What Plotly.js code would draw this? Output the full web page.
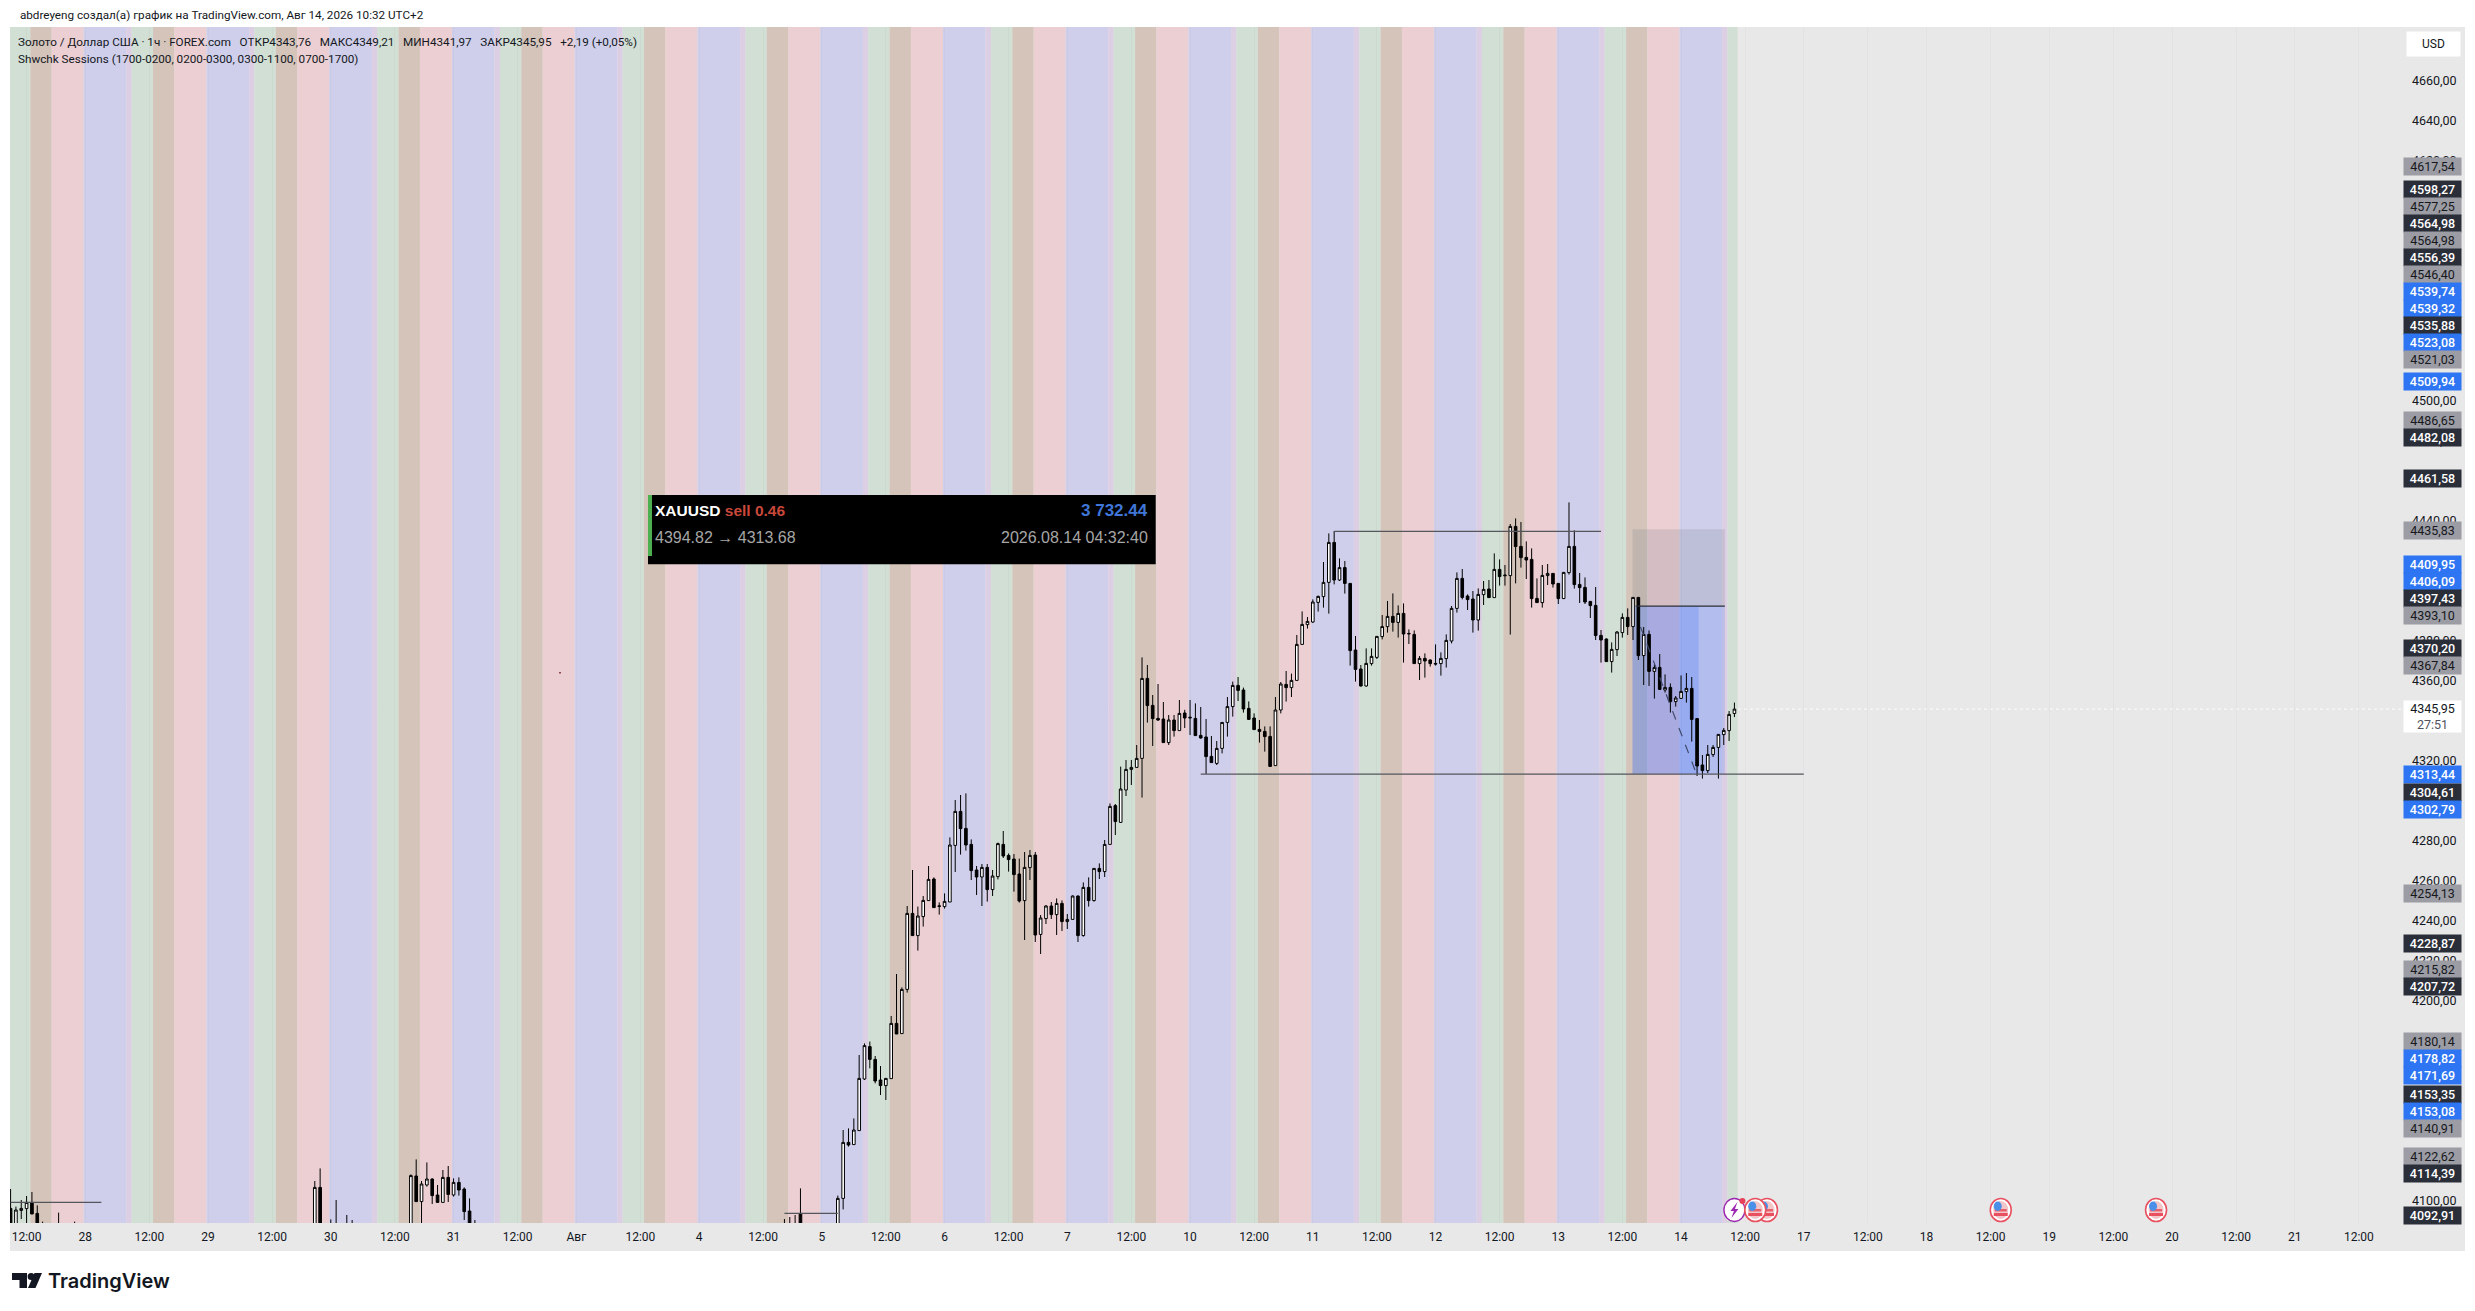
<!DOCTYPE html>
<html>
<head>
<meta charset="utf-8">
<title>XAUUSD</title>
<script src="https://cdn.plot.ly/plotly-3.0.1.min.js"></script>
<style>html,body{margin:0;padding:0;background:#fff}#chart{width:2475px;height:1311px}</style>
</head>
<body>
<div id="chart"></div>
<script>
// ---- candle data (hour bars on a trading-time axis; bar 0 = session of Jul 28) ----
const barsLeft = [-14,-13,-12,-11,-10,-9,-8,-5,-2,43,44,46,47,49,50,61,62,63,64,65,66,67,68,69,70,71,72,73,131,132,133,134,141];
const opensLeft = [4096.3,4085,4095.3,4096.2,4099.3,4093.8,4085,4085,4085,4080,4106.8,4085,4085,4085,4085,4080,4112.5,4099.7,4108,4111,4103,4099.3,4111.8,4103,4109.3,4106,4095,4085,4085,4085,4085,4093.8,4085];
const highsLeft = [4106,4097.2,4100.5,4102.5,4104.5,4097.8,4089.7,4094.2,4089.7,4110,4116.3,4090.8,4100.5,4093,4090.5,4113.3,4120.8,4110,4119.3,4111.3,4108,4115.5,4117.5,4111.3,4111.8,4106.8,4101.3,4090.5,4091,4092,4093,4106.3,4102.7];
const lowsLeft = [4080,4080,4091,4085,4093.5,4080,4080,4080,4080,4078,4075,4080,4080,4080,4080,4078,4099.5,4085,4107.2,4098.5,4099.3,4099.3,4099.5,4102.2,4102.7,4090.5,4080,4080,4080,4080,4080,4085,4083];
const closesLeft = [4085,4095.5,4096.3,4099.3,4093.5,4085,4083,4083,4083,4106.8,4075,4083,4083,4083,4083,4112.7,4099.7,4108.5,4111,4102.7,4099.3,4111.8,4103.3,4109.3,4105.5,4094.7,4085,4083,4083,4083,4083,4087,4101.3];

// bars 142 .. 309, consecutive
const firstMainBar = 142;
const opensMain = [
4101.3,4129.3,4128.2,4135.2,4161,4177.2,4170.8,4160.5,4157.7,4161.2,
4188.8,4183.7,4205.8,4243.8,4232.7,4242.2,4250.2,4261,4247.6,4247.2,
4249.5,4277.8,4294.8,4286.3,4278.3,4265.5,4262,4266.8,4255.7,4262.2,
4278.3,4272.8,4271,4263.5,4250.2,4266.7,4273,4233.3,4241.2,4247.5,
4243.2,4248.8,4239.7,4240.8,4252.5,4232.7,4256.8,4250.2,4266.3,4264.7,
4278.3,4297.7,4289.3,4305.5,4315.8,4316.8,4321.3,4361.3,4347.8,4341.3,
4341,4329.2,4340.5,4335.2,4344,4341.9,4341.3,4332.8,4332,4322.3,
4318.8,4326.3,4339.3,4347.2,4357.8,4355.5,4346.3,4341.5,4335.8,4334.8,
4332.3,4317.7,4345.5,4358.3,4356.7,4360.3,4378.3,4388.2,4389.5,4399.3,
4402.2,4409.3,4429.3,4410.5,4416.7,4408.8,4375.5,4366,4357.5,4368.7,
4371.8,4382.2,4387.2,4392.3,4389.3,4393.8,4383.8,4383.3,4368.7,4371.3,
4370.5,4368.8,4368.7,4371.2,4380,4396.3,4411.3,4402.5,4401,4390.5,
4403.2,4406,4401.7,4415.8,4412.6,4412.7,4437.3,4427.3,4421.8,4420.8,
4401.3,4399.2,4412.7,4413.8,4408.8,4401.2,4414.2,4427.3,4408.3,4406.8,
4399.8,4397.8,4382.8,4381,4369.7,4375.7,4384.2,4391.8,4387.2,4401.8,
4372.7,4383.3,4364.8,4366.8,4355.5,4356.8,4349.7,4351.3,4354.7,4356.3,
4341.2,4318,4315.2,4323.2,4326.8,4333.2,4335.2,4343.76];
const highsMain = [
4135.5,4136.3,4141.3,4173,4178.8,4179.7,4172.5,4167.5,4161.3,4192.5,
4213.5,4206.8,4247.5,4265.5,4247.2,4252.5,4267.5,4261.8,4249.3,4253.8,
4281.8,4300.5,4303,4303.8,4280.8,4267.5,4268.5,4268.5,4265.5,4279.2,
4285,4273.8,4273.5,4271.2,4274.5,4275.5,4274.5,4243,4248,4249.5,
4251.3,4250.3,4243.5,4252.8,4252.8,4259.3,4261.8,4266.3,4268.8,4280.5,
4298.8,4298.5,4317.2,4320.5,4320.5,4328,4371.8,4368,4353,4358.5,
4349.5,4343,4343,4350.5,4345.6,4350.5,4348.8,4347,4341,4332.5,
4330,4339.3,4352,4359.7,4362,4356.7,4349.8,4343.8,4340.5,4337.3,
4337.3,4352,4359.5,4365,4363.7,4383,4394.8,4392,4400.8,4402.7,
4419.5,4433.8,4435,4421.3,4420,4408.8,4382.5,4368,4376.3,4376.3,
4382.3,4393,4400,4403.8,4397.8,4398.8,4385.8,4385.3,4372.5,4373.8,
4370.8,4378.3,4374.3,4383.3,4397.5,4414.3,4416,4403.3,4405,4406.3,
4410,4410.5,4423.8,4420.8,4418,4438.5,4441.3,4439.5,4429.8,4426.3,
4411.3,4418,4418.5,4413.8,4408.8,4414.5,4449.3,4435.3,4414,4411.8,
4399.8,4407,4385.5,4381.3,4379.3,4385,4393.8,4396.3,4401.8,4401.8,
4387,4385.3,4368.3,4373.5,4363.3,4358.8,4352.5,4362.8,4364,4362,
4341.2,4323,4328,4328,4333.5,4336.5,4345,4349.21];
const lowsMain = [
4095.8,4127.2,4128.2,4135.2,4160.5,4166.3,4158.8,4153,4150.5,4161.2,
4183.5,4183.7,4204.2,4232.7,4225.2,4237.2,4250.2,4246.7,4243.2,4246.2,
4249.5,4264.5,4273.2,4275.2,4260.5,4253,4247.5,4249.7,4252.5,4260.8,
4271.5,4264.7,4254.7,4249.2,4230.5,4260.5,4229.5,4223.5,4238.5,4241,
4233,4235,4236,4240.8,4229.5,4232.2,4247.2,4249.7,4261,4262,
4278.3,4283,4289,4302.5,4308,4316.8,4301.7,4339.2,4327.5,4340,
4329.2,4328,4332.2,4335.2,4336.5,4333,4332.7,4331.2,4313.5,4319.2,
4318,4323.8,4332.2,4342.2,4350,4344.2,4340.5,4335.7,4329.2,4324.7,
4317,4317.7,4343.8,4349.7,4352,4360.3,4378.3,4386.2,4389,4394.7,
4396.7,4393.7,4408.3,4410,4403.7,4367.7,4359.7,4357.2,4357.2,4367.7,
4371,4380.8,4384.2,4384.7,4381.7,4369.2,4378.5,4368.7,4360.5,4361.7,
4367.2,4367.7,4362.7,4366.7,4378.8,4394.2,4400.8,4395.5,4384.2,4385.2,
4398,4401.7,4401.7,4407.7,4407.7,4383.2,4408.8,4416.7,4411,4396.7,
4399.2,4396.7,4408,4406.7,4398.5,4401,4413.2,4406.2,4399,4398.5,
4391.5,4380.5,4369.2,4369.7,4364.2,4372.5,4381.7,4383,4380.5,4370.5,
4358,4357.5,4351.2,4355.8,4354.2,4344.2,4347.2,4351,4349.2,4329.7,
4312.5,4311.2,4314,4322,4311.2,4328,4330,4341.97];
const closesMain = [
4129.3,4128,4135.5,4161.3,4177.7,4170.8,4160,4157.7,4161.3,4188.8,
4183.5,4205.8,4243.8,4232.7,4242.5,4250.3,4260.8,4246.7,4247.3,4249.8,
4278,4294.8,4286.2,4278,4265.2,4262,4266.8,4255.7,4262.5,4278.7,
4272.5,4270.7,4263.2,4250,4266.8,4272.8,4233,4241.5,4247.5,4243.2,
4248.8,4239.7,4240.8,4252.5,4232.7,4256.8,4250.2,4266.3,4264.7,4278.3,
4297.3,4289.7,4306,4315.8,4316.8,4321.3,4361.3,4347.7,4341.2,4340.5,
4329.2,4340.5,4335.2,4343.8,4341.5,4341.6,4332.7,4331.5,4322.2,4319.2,
4326.3,4339.3,4347.2,4357.8,4355.3,4346,4340.8,4335.7,4334.8,4332.2,
4317.3,4345.5,4358.5,4356.7,4360.3,4378.3,4388.3,4389.8,4399.5,4402.3,
4409.3,4429.3,4410.5,4416.7,4408.8,4375.2,4365.8,4357.5,4368.8,4372.3,
4382.3,4387.2,4392.3,4389.3,4393.8,4383.5,4383.6,4368.7,4371.3,4370,
4368.7,4368.5,4371.3,4380.3,4396.3,4411.3,4401.8,4400.7,4390.5,4403.3,
4405.8,4401.7,4415.8,4412.2,4412.9,4437.3,4427.2,4421.7,4420.5,4401.2,
4399.2,4412.8,4413.8,4408.5,4401.2,4414.3,4427.3,4408.2,4406.7,4399.5,
4397.7,4382.7,4380.5,4369.7,4375.8,4384.5,4391.8,4387.2,4401.8,4372.7,
4383.3,4364.8,4366.7,4355.8,4356.8,4349.7,4351.5,4354.8,4356.3,4340.8,
4317.5,4315.2,4323.3,4326.8,4333.3,4335.3,4343.3,4345.95];

// ---- time axis ----
const dayLabels = ['28','29','30','31','Авг','4','5','6','7','10','11','12','13','14','17','18','19','20','21'];
const barsPerDay = 23;
const noonOffset = 12;
const lastBar = 309;

// ---- sessions: [bars from day start, length in bars, colour] ----
const sessionNames = ['0300-1100','overlap','1700-0200','0200-0300','0700-1700'];
const sessionStarts = [0,8,9,13,17];
const sessionEnds = [8,9,13,17,23];
const sessionColors = ['#cfcfeb','#dccfe4','#d1dfd4','#d4c4ba','#ebcfd2'];

// ---- price axis ----
const priceTicks = [4660,4640,4620,4500,4480,4440,4380,4360,4320,4280,4260,4240,4220,4200,4100];
const tagTexts = ['4617,54','4598,27','4577,25','4564,98','4564,98','4556,39','4546,40','4539,74','4539,32','4535,88','4523,08','4521,03','4509,94','4486,65','4482,08','4461,58','4435,83','4409,95','4406,09','4397,43','4393,10','4370,20','4367,84','4313,44','4304,61','4302,79','4254,13','4228,87','4215,82','4207,72','4180,14','4178,82','4171,69','4153,35','4153,08','4140,91','4122,62','4114,39','4092,91'];
const tagKinds = ['g','d','g','d','g','d','g','b','b','d','b','g','b','g','d','d','g','b','b','d','g','d','g','b','d','b','g','d','g','d','g','b','b','d','b','g','g','d','d'];
const tagRows = [166.7,189.7,206.7,223.3,240.3,257.3,274.3,291.3,308.3,325.3,342.3,359.3,381.5,420.3,437.3,478.3,530.3,564.3,581.3,598.3,615.3,648.3,665.3,774.3,792.3,809.3,893.3,943.3,969.3,986.3,1041.3,1058.3,1075.3,1094.3,1111.3,1128.3,1156.3,1173.3,1215];
const lastPrice = 4345.95;
const lastPriceText = '4345,95<br><span style="color:#50535e">27:51</span>';

// ---- drawings ----
const targetLevel = 4435.83, entryLevel = 4397.43, stopLevel = 4313.44;
const highLine = [234, 284, 4434.8];
const lowLine = [209, 322, stopLevel];
const leftLine = [-14, 3, 4099.3];
const bottomLine = [131, 141, 4093.8];
const positionBars = [289.9, 307.2, 302.3];
const tradePath = [291.4, 4387, 301.9, stopLevel];
const flagEventBars = [315.1, 312.9, 358.9, 388];
const boltEventBar = 309;
const eventPrice = 4095.5;

// ---- text ----
const gap = '\u00a0\u00a0\u00a0';
const titleText = 'abdreyeng создал(а) график на TradingView.com, Авг 14, 2026 10:32 UTC+2';
const legendLine1 = 'Золото / Доллар США · 1ч · FOREX.com' + gap + 'ОТКР4343,76' + gap + 'МАКС4349,21' + gap + 'МИН4341,97' + gap + 'ЗАКР4345,95' + gap + '+2,19 (+0,05%)';
const legendLine2 = 'Shwchk Sessions (1700-0200, 0200-0300, 0300-1100, 0700-1700)';

// ---- frame in page pixels ----
const W = 2475, H = 1311, L = 10, R = 2465, T = 27, B = 1223, AXB = 1251;
const fx = p => (p - L) / (R - L);
const fy = p => (B - p) / (B - T);
const FONT = 'Roboto, "Liberation Sans", sans-serif';
const INK = '#131722';

const bars = barsLeft.concat(opensMain.map((_, i) => firstMainBar + i));
const opens = opensLeft.concat(opensMain);
const highs = highsLeft.concat(highsMain);
const lows = lowsLeft.concat(lowsMain);
const closes = closesLeft.concat(closesMain);

const tickvals = [noonOffset - barsPerDay], ticktext = ['12:00'];
dayLabels.forEach((lab, d) => {
  tickvals.push(d * barsPerDay, d * barsPerDay + noonOffset);
  ticktext.push(lab, '12:00');
});

const shapes = [];
const paperRect = (x0, y0, x1, y1, fill, layer) => ({type:'rect', xref:'paper', yref:'paper', x0:fx(x0), x1:fx(x1), y0:fy(y0), y1:fy(y1), fillcolor:fill, line:{width:0}, layer:layer||'above'});
const dataRect = (x0, x1, y0, y1, fill, layer) => ({type:'rect', xref:'x', yref:'y', x0, x1, y0, y1, fillcolor:fill, line:{width:0}, layer:layer||'below'});
const dataLine = (x0, x1, y, color, width) => ({type:'line', xref:'x', yref:'y', x0, x1, y0:y, y1:y, line:{color, width}, layer:'above'});

// time-axis strip
shapes.push(paperRect(L, B, R, AXB, '#e8e8e9', 'below'));

// session bands
const bandShift = -0.3, bandLimit = lastBar + 0.6;
for (let d = -1; d * barsPerDay <= lastBar; d++) {
  sessionStarts.forEach((s, k) => {
    const a = d * barsPerDay + s + bandShift;
    const b = Math.min(d * barsPerDay + sessionEnds[k] + bandShift, bandLimit);
    if (a < bandLimit) shapes.push(dataRect(a, b, 4000, 4800, sessionColors[k]));
  });
}

// last price dotted line
shapes.push({type:'line', xref:'paper', yref:'y', x0:0, x1:fx(2404), y0:lastPrice, y1:lastPrice, line:{color:'rgba(255,255,255,0.85)', width:1, dash:'dot'}, layer:'below'});

// small stray mark on the chart
shapes.push(paperRect(559, 672, 561, 673.5, '#8a4a4a'));

// position tool
shapes.push(dataRect(positionBars[0], positionBars[1], entryLevel, targetLevel, 'rgba(120,123,134,0.2)'));
shapes.push(dataRect(positionBars[0], positionBars[1], stopLevel, entryLevel, 'rgba(41,98,255,0.17)'));
shapes.push(dataRect(positionBars[0], positionBars[2], stopLevel, entryLevel, 'rgba(41,98,255,0.2)'));

// level lines
shapes.push(dataLine(highLine[0], highLine[1], highLine[2], '#55565c', 1.2));
shapes.push(dataLine(lowLine[0], lowLine[1], lowLine[2], '#55565c', 1.2));
shapes.push(dataLine(leftLine[0], leftLine[1], leftLine[2], '#55565c', 1.2));
shapes.push(dataLine(bottomLine[0], bottomLine[1], bottomLine[2], '#55565c', 1.2));
shapes.push(dataLine(positionBars[0] + 0.6, positionBars[1], entryLevel, '#2a2e39', 1.4));
shapes.push({type:'line', xref:'x', yref:'y', x0:tradePath[0], y0:tradePath[1], x1:tradePath[2], y1:tradePath[3], line:{color:'#3f4a6b', width:1.2, dash:'dash'}, layer:'above'});

// event icons
const pxShape = (type, bar, x0, x1, y0, y1, fill, line) => ({type, xref:'x', yref:'y', xsizemode:'pixel', ysizemode:'pixel', xanchor:bar, yanchor:eventPrice, x0, x1, y0, y1, fillcolor:fill, line:line||{width:0}, layer:'above'});
shapes.push(pxShape('circle', boltEventBar, -10.5, 10.5, -11.5, 11.5, '#ffffff', {color:'#9c27b0', width:1.4}));
shapes.push({type:'path', xref:'x', yref:'y', xsizemode:'pixel', ysizemode:'pixel', xanchor:boltEventBar, yanchor:eventPrice, path:'M 3,8 L -4,-1 L -0.5,-1 L -3,-8 L 4,1 L 0.5,1 Z', fillcolor:'#9c27b0', line:{width:0}, layer:'above'});
shapes.push(pxShape('circle', boltEventBar, 5, 11, 6, 12, '#e8405a'));
flagEventBars.forEach(b => {
  shapes.push(pxShape('circle', b, -10.5, 10.5, -11.5, 11.5, '#ffffff', {color:'#e8505f', width:1.6}));
  shapes.push(pxShape('circle', b, -7.5, 7.5, -9, 9, '#f2c6c9'));
  shapes.push(pxShape('rect', b, -7, 7, -6, -3, '#e8505f'));
  shapes.push(pxShape('rect', b, -6, 6, -1.5, 1, '#e8606c'));
  shapes.push(pxShape('circle', b, -7, 1, -1, 8.5, '#4a90e8'));
});

// info card
shapes.push(paperRect(648, 495, 1155.7, 564.3, '#000000'));
shapes.push(paperRect(648, 495, 652, 556, '#4caf50'));

// logo
const pathOf = pts => 'M ' + pts.map(q => fx(q[0]) + ',' + fy(q[1])).join(' L ') + ' Z';
shapes.push({type:'path', xref:'paper', yref:'paper', path:pathOf([[12,1273],[27,1273],[27,1288],[19.5,1288],[19.5,1280],[12,1280]]), fillcolor:'#131722', line:{width:0}});
shapes.push({type:'circle', xref:'paper', yref:'paper', x0:fx(27.6), x1:fx(34.6), y0:fy(1280), y1:fy(1273), fillcolor:'#131722', line:{width:0}});
shapes.push({type:'path', xref:'paper', yref:'paper', path:pathOf([[34.5,1273],[42,1273],[35.5,1288],[28,1288]]), fillcolor:'#131722', line:{width:0}});

// annotations
const annotations = [];
const pxText = (x, y, text, size, opts) => Object.assign({xref:'paper', yref:'paper', x:fx(x), y:fy(y), xanchor:'left', yanchor:'middle', showarrow:false, text, font:{family:FONT, size, color:INK}}, opts||{});

annotations.push(pxText(16, 42, legendLine1, 11.7));
annotations.push(pxText(16, 59, legendLine2, 11.7));

function kindWeight(k){ return k === 'g' ? 400 : 500; }
const tagStyle = {g:{bg:'#9b9ca4', fg:'#17181c'}, d:{bg:'#2a2e39', fg:'#ffffff'}, b:{bg:'#2d75f2', fg:'#ffffff'}};
tagTexts.forEach((t, i) => {
  const st = tagStyle[tagKinds[i]];
  annotations.push({xref:'paper', yref:'paper', x:fx(2432.5), y:fy(tagRows[i]), xanchor:'center', yanchor:'middle', showarrow:false, text:t, width:57, height:17, borderpad:0, bgcolor:st.bg, font:{family:FONT, size:12.5, color:st.fg, weight:kindWeight(tagKinds[i])}});
});

annotations.push({xref:'paper', yref:'paper', x:fx(2432.5), y:fy(716.3), xanchor:'center', yanchor:'middle', showarrow:false, text:lastPriceText, width:57, height:31, borderpad:0, bgcolor:'#ffffff', align:'center', font:{family:FONT, size:12.5, color:INK}});
annotations.push({xref:'paper', yref:'paper', x:fx(2433.5), y:fy(44), xanchor:'center', yanchor:'middle', showarrow:false, text:'USD', width:53, height:24, borderpad:0, bgcolor:'#ffffff', font:{family:FONT, size:12, color:INK}});

const cardHead = '"Liberation Sans", sans-serif';
annotations.push(pxText(652.5, 510.5, '<b>XAUUSD</b> <b><span style="color:#c9483a">sell 0.46</span></b>', 15.5, {font:{family:cardHead, size:15.5, color:'#ffffff'}}));
annotations.push(pxText(1149.5, 510.5, '<b>3 732.44</b>', 17, {xanchor:'right', font:{family:cardHead, size:17, color:'#3f76d8'}}));
const cardFont = {family:'"Liberation Sans", sans-serif', size:16, color:'#a6a6a6'};
annotations.push(pxText(652.5, 537.5, '4394.82 → 4313.68', 16, {font:cardFont}));
annotations.push(pxText(1149.5, 537.5, '2026.08.14 04:32:40', 16, {xanchor:'right', font:cardFont}));

annotations.push(pxText(46, 1281, 'TradingView', 20, {font:{family:'Inter, Roboto, sans-serif', size:20, color:INK, weight:600}}));

const trace = {
  type:'candlestick', x:bars, open:opens, high:highs, low:lows, close:closes,
  whiskerwidth:0, hoverinfo:'skip', showlegend:false,
  increasing:{line:{color:'#000000', width:1}, fillcolor:'#ffffff'},
  decreasing:{line:{color:'#000000', width:1}, fillcolor:'#000000'}
};

const barPx = 5.337, dayZeroPx = 85.3;
const layout = {
  width:W, height:H, autosize:false,
  paper_bgcolor:'#ffffff', plot_bgcolor:'#e8e8e9',
  margin:{l:L, r:W - R, t:T, b:H - B, pad:0},
  showlegend:false,
  title:{text:titleText, x:10 / W, xanchor:'left', xref:'paper', y:1 - 15 / H, yanchor:'middle', yref:'container', font:{family:FONT, size:11.7, color:INK}, pad:{t:0,b:0,l:0,r:0}},
  xaxis:{type:'linear', range:[(L - dayZeroPx) / barPx, (R - dayZeroPx) / barPx], rangeslider:{visible:false}, tickmode:'array', tickvals, ticktext, showgrid:true, gridcolor:'rgba(0,0,0,0.022)', gridwidth:1, zeroline:false, showline:false, ticks:'outside', ticklen:3, tickcolor:'rgba(0,0,0,0)', tickfont:{family:FONT, size:12, color:INK}, fixedrange:true, tickangle:0},
  yaxis:{type:'linear', side:'right', range:[4089, 4687], tickmode:'array', tickvals:priceTicks, ticktext:priceTicks.map(v => v.toFixed(2).replace('.', ',')), ticklabelposition:'inside', ticks:'inside', ticklen:8, tickcolor:'rgba(0,0,0,0)', showgrid:false, zeroline:false, showline:false, tickfont:{family:FONT, size:12.5, color:INK}, fixedrange:true},
  shapes, annotations
};

Plotly.newPlot('chart', [trace], layout, {displayModeBar:false, staticPlot:true, responsive:false});
</script>
</body>
</html>
